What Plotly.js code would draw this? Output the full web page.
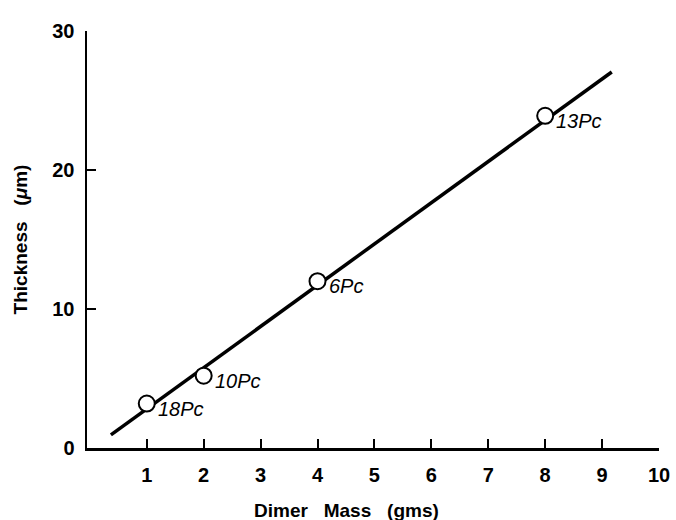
<!DOCTYPE html>
<html>
<head>
<meta charset="utf-8">
<script src="https://cdn.plot.ly/plotly-3.0.1.min.js"></script>
<style>html,body{margin:0;padding:0;background:#fff;}#chart{width:676px;height:520px;}</style>
</head>
<body>
<div id="chart"></div>
<script>
// Measured points
const massX = [1, 2, 4, 8];
const thicknessY = [3.2, 5.2, 12.0, 23.9];
const pointLabels = ['18Pc', '10Pc', '6Pc', '13Pc'];
// Fitted line endpoints
const fitX = [0.37, 9.17];
const fitY = [0.94, 27.05];
// Tick values
const xTicks = [1, 2, 3, 4, 5, 6, 7, 8, 9, 10];
const yTicks = [0, 10, 20, 30];

const FONT = 'Liberation Sans, Arial, Helvetica, sans-serif';

const traces = [
  {x: fitX, y: fitY, mode: 'lines', line: {color: '#000', width: 3.5}, hoverinfo: 'skip', showlegend: false},
  {x: massX, y: thicknessY, mode: 'markers',
   marker: {symbol: 'circle', size: 16, color: '#fff', line: {color: '#000', width: 2}},
   showlegend: false}
];

const annotations = massX.map((x, i) => ({
  x: x, y: thicknessY[i], xref: 'x', yref: 'y', text: pointLabels[i],
  showarrow: false, xanchor: 'left', yanchor: 'middle', xshift: 9, yshift: -5,
  font: {family: FONT, size: 20, color: '#000', style: 'italic'}
}));
annotations.push({
  xref: 'paper', yref: 'paper', x: 0.453, y: -0.149, xanchor: 'center', yanchor: 'middle',
  text: 'Dimer&nbsp;&nbsp;&nbsp;Mass&nbsp;&nbsp;&nbsp;(gms)', showarrow: false,
  font: {family: FONT, size: 19, weight: 'bold', color: '#000'}
});

const layout = {
  width: 676, height: 520,
  margin: {l: 87, r: 17, t: 31, b: 72},
  paper_bgcolor: '#fff', plot_bgcolor: '#fff',
  font: {family: FONT, color: '#000'},
  showlegend: false,
  xaxis: {
    range: [-0.05, 10], tickvals: xTicks, ticktext: xTicks.map(String),
    showgrid: false, zeroline: false, showline: true, linecolor: '#000', linewidth: 2.5,
    ticks: 'inside', ticklen: 9, tickwidth: 2, tickcolor: '#000',
    ticklabelstandoff: 7,
    tickfont: {family: FONT, size: 20, weight: 'bold', color: '#000'}
  },
  yaxis: {
    range: [0, 30], tickvals: yTicks, ticktext: yTicks.map(String),
    showgrid: false, zeroline: false, showline: true, linecolor: '#000', linewidth: 2.5,
    ticks: 'inside', ticklen: 9, tickwidth: 2, tickcolor: '#000',
    ticklabelstandoff: 6,
    tickfont: {family: FONT, size: 20, weight: 'bold', color: '#000'},
    title: {text: 'Thickness&nbsp;&nbsp;&nbsp;(<i>μ</i>m)', font: {family: FONT, size: 19, weight: 'bold', color: '#000'}, standoff: 20}
  },
  annotations: annotations
};

Plotly.newPlot('chart', traces, layout, {displayModeBar: false, staticPlot: true});
</script>
</body>
</html>
